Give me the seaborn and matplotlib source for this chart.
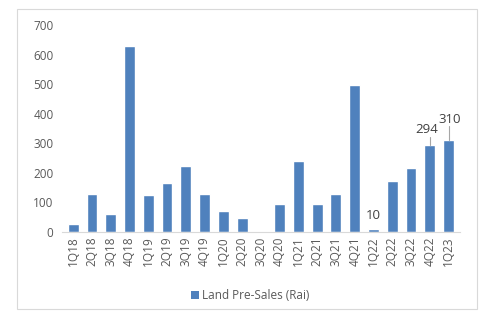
import matplotlib
matplotlib.use("Agg")
import matplotlib.pyplot as plt
import seaborn as sns
import pandas as pd
from matplotlib.patches import Rectangle, Patch

quarters = ["1Q18", "2Q18", "3Q18", "4Q18", "1Q19", "2Q19", "3Q19", "4Q19",
            "1Q20", "2Q20", "3Q20", "4Q20", "1Q21", "2Q21", "3Q21", "4Q21",
            "1Q22", "2Q22", "3Q22", "4Q22", "1Q23"]
land_presales = [27, 130, 61, 630, 126, 165, 225, 130,
                 70, 47, 0, 96, 242, 96, 130, 497,
                 10, 173, 216, 294, 310]
series_name = "Land Pre-Sales (Rai)"
yticks = [0, 100, 200, 300, 400, 500, 600, 700]

df = pd.DataFrame({"Quarter": quarters, "Value": land_presales, "Series": series_name})

sns.set_style("white")
plt.rcParams["font.family"] = ["Open Sans", "DejaVu Sans"]

fig = plt.figure(figsize=(4.84, 3.14), dpi=100)
ax = fig.add_axes([0.128, 0.261, 0.822, 0.659])

bar_color = "#4F81BD"
sns.barplot(data=df, x="Quarter", y="Value", hue="Series", palette=[bar_color],
            saturation=1, width=0.58, ax=ax, legend=False)

ax.set_ylim(0, 700)
ax.set_yticks(yticks)
ax.set_xlim(-0.6, len(quarters) - 0.4)
ax.set_xlabel("")
ax.set_ylabel("")
text_color = "#595959"
ax.tick_params(axis="y", labelsize=8.5, colors=text_color, length=0, pad=6)
ax.tick_params(axis="x", labelsize=8.5, colors=text_color, length=0, pad=3)
plt.setp(ax.get_xticklabels(), rotation=90)
for s in ["top", "right", "left"]:
    ax.spines[s].set_visible(False)
ax.spines["bottom"].set_color("#D9D9D9")
ax.spines["bottom"].set_linewidth(0.8)

# data labels
lbl_color = "#404040"
i10 = quarters.index("1Q22")
ax.text(i10, land_presales[i10] + 25, str(land_presales[i10]), ha="center", va="bottom",
        fontsize=9.5, color=lbl_color)
i294 = quarters.index("4Q22")
ax.plot([i294, i294], [land_presales[i294], land_presales[i294] + 28], color="#A6A6A6", lw=0.8)
ax.text(i294 - 0.15, land_presales[i294] + 30, str(land_presales[i294]), ha="center", va="bottom",
        fontsize=9.5, color=lbl_color)
i310 = quarters.index("1Q23")
ax.plot([i310, i310], [land_presales[i310], land_presales[i310] + 48], color="#A6A6A6", lw=0.8)
ax.text(i310 + 0.05, land_presales[i310] + 50, str(land_presales[i310]), ha="center", va="bottom",
        fontsize=9.5, color=lbl_color)

# legend
fig.legend(handles=[Patch(facecolor=bar_color, edgecolor="none", label=series_name)],
           loc="center", bbox_to_anchor=(0.517, 0.058), frameon=False, fontsize=8.5,
           handlelength=0.7, handleheight=0.7, handletextpad=0.3, labelcolor=text_color)

# chart border
fig.patches.append(Rectangle((17 / 484, 1 - 309 / 314), 460 / 484, 300 / 314,
                             transform=fig.transFigure, fill=False,
                             edgecolor="#D9D9D9", linewidth=0.8))

fig.savefig("out.png", dpi=100, facecolor="white")
